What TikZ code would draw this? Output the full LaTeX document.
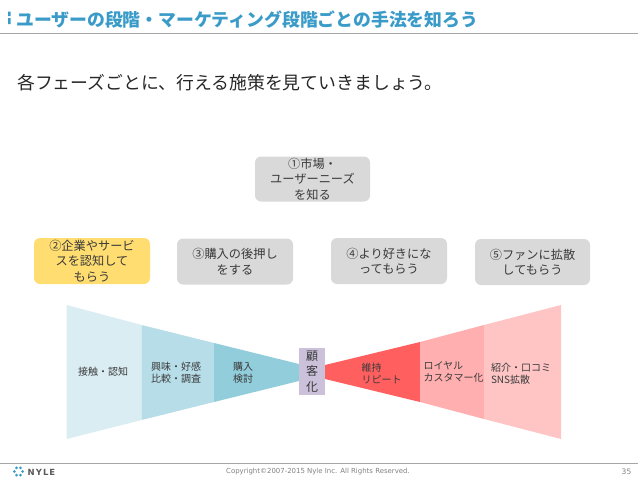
\documentclass[tikz,border=0pt]{standalone}
\usepackage{fontspec}
\setmainfont{Noto Sans CJK JP}
\newfontfamily\latinfont{DejaVu Sans}
\newfontfamily\logofont[LetterSpace=12]{DejaVu Sans}
\definecolor{titleblue}{HTML}{3A9BC9}
\definecolor{boxgray}{HTML}{D9D9D9}
\definecolor{boxyellow}{HTML}{FFDD71}
\definecolor{txt}{HTML}{3A3A3A}
\definecolor{rulegray}{HTML}{A6A6A6}
\definecolor{ba}{HTML}{DAEDF3}
\definecolor{bb}{HTML}{B7DDE8}
\definecolor{bc}{HTML}{92CDDC}
\definecolor{ra}{HTML}{FF5F5F}
\definecolor{rb}{HTML}{FFAFAF}
\definecolor{rc}{HTML}{FFC5C5}
\definecolor{lav}{HTML}{CCC1DA}
\tikzset{
  x=1pt,y=-1pt,
  phase/.style={rounded corners=6pt,fill=boxgray,minimum width=116pt,minimum height=46pt,inner sep=0pt,
    align=center,text=txt,font=\fontsize{12.2}{15.5}\selectfont},
  funnel/.style={text=txt,align=left,inner sep=0pt,font=\fontsize{10}{12}\selectfont},
  ruleline/.style={draw=rulegray,line width=1pt},
  logodot/.style={fill=titleblue,draw=none}
}
\begin{document}
\begin{tikzpicture}
\useasboundingbox (0,0) rectangle (638,479);
% header
\fill[titleblue] (8,11.5) rectangle (10.5,16) (8,18) rectangle (10.5,24);
\node[anchor=west,inner sep=0pt,text=titleblue,font=\fontsize{17.85}{20}\selectfont\bfseries] (title) at (16,20) {ユーザーの段階・マーケティング段階ごとの手法を知ろう};
\coordinate (hl) at (0,33); \coordinate (hr) at (638,33);
\draw[ruleline] (hl) -- (hr);
\node[anchor=west,inner sep=0pt,text=black!85,font=\fontsize{17.85}{20}\selectfont] (lead) at (17,83) {各フェーズごとに、行える施策を見ていきましょう。};
% phase boxes
\node[phase,minimum width=115pt,minimum height=45pt] (p1) at (312.5,179) {①市場・\\ユーザーニーズ\\を知る};
\node[phase,fill=boxyellow] (p2) at (92,261) {②企業やサービ\\スを認知して\\もらう};
\node[phase] (p3) at (235,261.5) {③購入の後押し\\をする};
\node[phase] (p4) at (389,261) {④より好きにな\\ってもらう};
\node[phase,minimum width=115pt] (p5) at (532.5,262) {⑤ファンに拡散\\してもらう};
% funnel left
\fill[ba] (66.7,305) -- (141.7,325) -- (141.7,420) -- (66.7,439) -- cycle;
\fill[bb] (141.7,325) -- (214,343) -- (214,402) -- (141.7,420) -- cycle;
\fill[bc] (214,343) -- (299,364) -- (299,381) -- (214,402) -- cycle;
% funnel right
\fill[ra] (325,365) -- (420,342) -- (420,402) -- (325,379) -- cycle;
\fill[rb] (420,342) -- (484,325) -- (484,419) -- (420,402) -- cycle;
\fill[rc] (484,325) -- (561,305) -- (561,439) -- (484,419) -- cycle;
% centre
\node[fill=lav,minimum width=26pt,minimum height=47pt,inner sep=0pt,align=center,text=txt,font=\fontsize{12}{15.5}\selectfont] (cust) at (312,371.5) {顧\\客\\化};
% funnel labels
\node[funnel] (f1) at (103,372) {接触・認知};
\node[funnel] (f2) at (176,373) {興味・好感\\比較・調査};
\node[funnel] (f3) at (243,373) {購入\\検討};
\node[funnel] (f4) at (381.5,373) {維持\\リピート};
\node[funnel] (f5) at (453.5,372) {ロイヤル\\カスタマー化};
\node[funnel] (f6) at (521,374) {紹介・口コミ\\SNS拡散};
% footer
\coordinate (fl) at (0,463.5); \coordinate (fr) at (638,463.5);
\draw[ruleline] (fl) -- (fr);
\foreach \a in {0,60,120,180,240,300}
  \fill[logodot] (18.5,471.5) ++(\a:4.2) circle (1.5);
\node[anchor=west,inner sep=0pt,text=black!65,font=\logofont\bfseries\fontsize{8.5}{9}\selectfont] (logo) at (27.5,472) {NYLE};
\node[inner sep=0pt,text=black!50,font=\latinfont\fontsize{6.95}{8}\selectfont] (copy) at (318,471.5) {Copyright©2007-2015 Nyle Inc. All Rights Reserved.};
\node[inner sep=0pt,text=black!50,font=\latinfont\fontsize{7.5}{8}\selectfont] (page) at (626.5,471.5) {35};
\end{tikzpicture}
\end{document}
